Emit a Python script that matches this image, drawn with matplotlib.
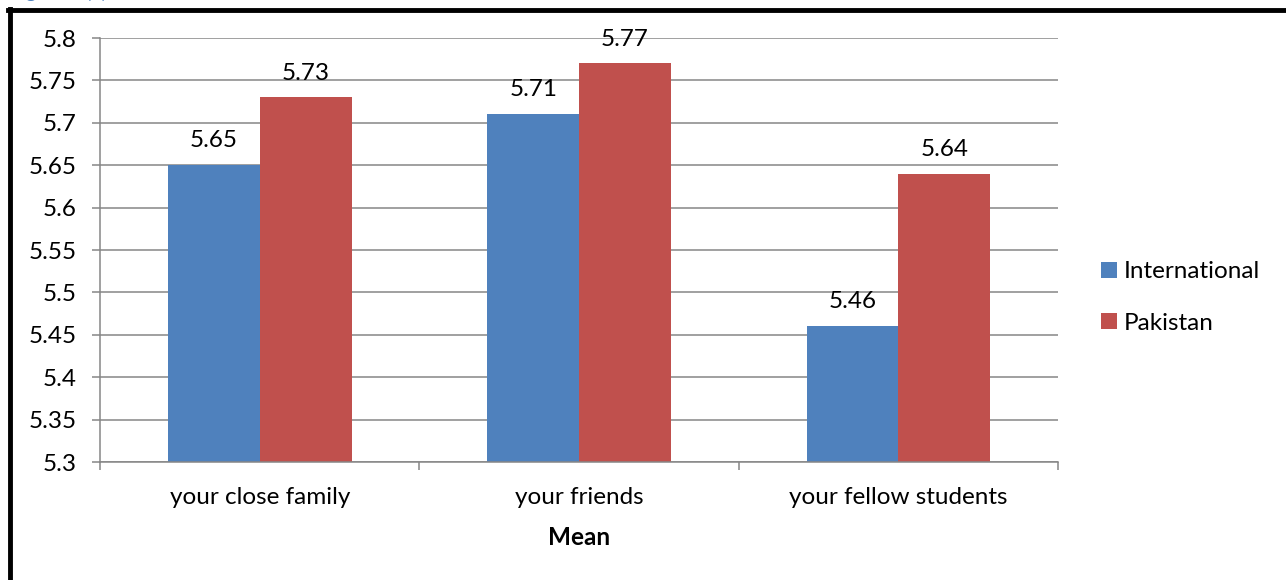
import matplotlib.pyplot as plt
from matplotlib.lines import Line2D
from matplotlib.ticker import MultipleLocator, FixedLocator
import numpy as np

categories = ["your close family", "your friends", "your fellow students"]
international = [5.65, 5.71, 5.46]
pakistan = [5.73, 5.77, 5.64]
series_names = ["International", "Pakistan"]

plt.rcParams['font.family'] = ['Lato', 'DejaVu Sans']
fs = 17.5

fig = plt.figure(figsize=(12.86, 5.8), dpi=100)
ax = fig.add_axes([0.0778, 0.2034, 0.745, 0.731])

x = np.arange(len(categories))
w = 0.2875
b1 = ax.bar(x - w / 2, international, w, color="#4F81BD", label=series_names[0])
b2 = ax.bar(x + w / 2, pakistan, w, color="#C0504D", label=series_names[1])

for bars, vals in [(b1, international), (b2, pakistan)]:
    for r, v in zip(bars, vals):
        ax.annotate("%.2f" % v, (r.get_x() + r.get_width() / 2, v),
                    xytext=(0, 10), textcoords="offset points",
                    ha="center", va="bottom", fontsize=fs)

ax.set_ylim(5.3, 5.8)
ax.set_xlim(-0.5, 2.5)
ax.yaxis.set_major_locator(MultipleLocator(0.05))
ax.set_yticklabels(["%g" % round(t, 2) for t in ax.get_yticks()])
ax.grid(axis="y", color="#868686", linewidth=1.1)
ax.set_axisbelow(True)

ax.set_xticks(x)
ax.set_xticklabels(categories)
ax.xaxis.set_minor_locator(FixedLocator([-0.5, 0.5, 1.5, 2.5]))
ax.tick_params(axis="x", which="major", length=0, pad=18, labelsize=fs)
ax.tick_params(axis="x", which="minor", length=6, width=1.1, color="#868686")
ax.tick_params(axis="y", length=6, width=1.1, color="#868686", pad=11, labelsize=fs)

for s in ["top", "right"]:
    ax.spines[s].set_visible(False)
for s in ["left", "bottom"]:
    ax.spines[s].set_color("#868686")
    ax.spines[s].set_linewidth(1.1)

ax.set_xlabel("Mean", fontsize=fs, fontweight="bold", labelpad=13)

leg = fig.legend(handles=[b1, b2], labels=series_names, loc="center left",
                 bbox_to_anchor=(0.839, 0.487), frameon=False, fontsize=fs,
                 handlelength=0.65, handleheight=0.65, handletextpad=0.3,
                 labelspacing=1.25)

# page frame and clipped caption above it
fig.add_artist(Line2D([0.0078, 0.0078], [0.0, 0.985], color="black", linewidth=3.5))
fig.add_artist(Line2D([0.0066, 1.0], [0.983, 0.983], color="black", linewidth=3.5))
fig.text(0.008, 1.004, "Figure 4 (a)", color="#4F81BD", fontsize=14,
         fontweight="bold", va="baseline")

fig.savefig("out.png", dpi=100)
